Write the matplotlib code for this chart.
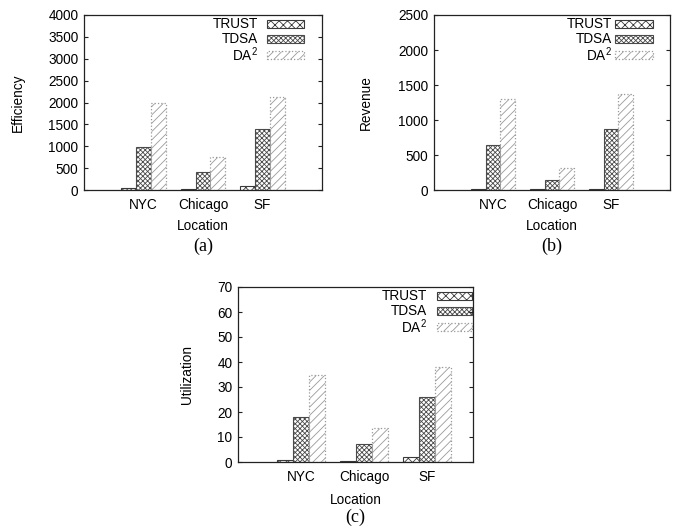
import matplotlib
matplotlib.use("Agg")
import matplotlib.pyplot as plt
from matplotlib.patches import Rectangle
import numpy as np

locations = ["NYC", "Chicago", "SF"]
series = ["TRUST", "TDSA", "DA$^2$"]

efficiency = {"TRUST": [38, 15, 92], "TDSA": [990, 415, 1405], "DA$^2$": [1980, 760, 2135]}
revenue = {"TRUST": [12, 10, 12], "TDSA": [643, 148, 871], "DA$^2$": [1295, 314, 1371]}
utilization = {"TRUST": [0.95, 0.3, 1.9], "TDSA": [18.1, 7.3, 25.9], "DA$^2$": [34.8, 13.5, 38.0]}

plt.rcParams['font.family'] = ['Liberation Sans', 'DejaVu Sans']
plt.rcParams['mathtext.fontset'] = 'custom'
plt.rcParams['mathtext.rm'] = 'Liberation Sans'
plt.rcParams['mathtext.it'] = 'Liberation Sans'
plt.rcParams['hatch.linewidth'] = 0.6
FS = 9.8

styles = {
    "TRUST": dict(hatch='xxxx', edgecolor='#3a3a3a', linestyle='-', lw=0.8),
    "TDSA": dict(hatch='xxxxxxx', edgecolor='#4a4a4a', linestyle='-', lw=0.8),
    "DA$^2$": dict(hatch='////', edgecolor='#9a9a9a', linestyle=':', lw=0.9),
}

fig = plt.figure(figsize=(6.8, 5.27), dpi=100)

def panel(rect, data, ymax, ystep, ylabel, tag, xlim, ylab_x, xlab_y, tag_y, leg_x):
    ax = fig.add_axes(rect)
    x = np.arange(len(locations))
    w = 0.25
    for i, s in enumerate(series):
        st = styles[s]
        ax.bar(x + (i - 1) * w, data[s], width=w, facecolor='white',
               edgecolor=st['edgecolor'], hatch=st['hatch'],
               linestyle=st['linestyle'], linewidth=st['lw'])
    ax.set_xlim(*xlim)
    ax.set_ylim(0, ymax)
    ax.set_yticks(np.arange(0, ymax + ystep / 2, ystep))
    ax.set_xticks(x)
    ax.set_xticklabels(locations, fontsize=FS)
    ax.tick_params(axis='y', direction='in', length=3, right=True, labelsize=FS,
                   pad=4, color='#222222')
    ax.tick_params(axis='x', length=0, pad=6)
    for sp in ax.spines.values():
        sp.set_color('#222222')
        sp.set_linewidth(0.9)
    ax.set_ylabel(ylabel, fontsize=FS)
    ax.yaxis.set_label_coords(ylab_x, 0.5)
    ax.set_xlabel("Location", fontsize=FS)
    ax.xaxis.set_label_coords(0.5, xlab_y)
    ax.text(0.5, tag_y, tag, transform=ax.transAxes, ha='center', va='center',
            fontsize=13, family='Liberation Serif')
    # legend (gnuplot style: right-aligned text, sample box on the right)
    ys = [0.948, 0.862, 0.772]
    tx, bx0, bx1 = leg_x
    for s, yy in zip(series, ys):
        st = styles[s]
        ax.text(tx, yy, s, transform=ax.transAxes, ha='right', va='center', fontsize=FS)
        ax.add_patch(Rectangle((bx0, yy - 0.022), bx1 - bx0, 0.044, transform=ax.transAxes,
                               facecolor='white', edgecolor=st['edgecolor'],
                               hatch=st['hatch'], linestyle=st['linestyle'],
                               linewidth=st['lw'], clip_on=False))
    return ax

panel([84 / 680, 1 - 190 / 527, 238 / 680, 175 / 527], efficiency, 4000, 500,
      "Efficiency", "(a)", (-1.0, 3.0), -0.248, -0.168, -0.32, (0.73, 0.769, 0.924))
panel([434 / 680, 1 - 190 / 527, 236 / 680, 175 / 527], revenue, 2500, 500,
      "Revenue", "(b)", (-1.0, 3.0), -0.258, -0.168, -0.32, (0.754, 0.767, 0.928))
panel([238 / 680, 1 - 462 / 527, 235 / 680, 175 / 527], utilization, 70, 10,
      "Utilization", "(c)", (-1.0, 2.73), -0.187, -0.175, -0.318, (0.804, 0.847, 0.995))

fig.savefig("out.png", dpi=100)
